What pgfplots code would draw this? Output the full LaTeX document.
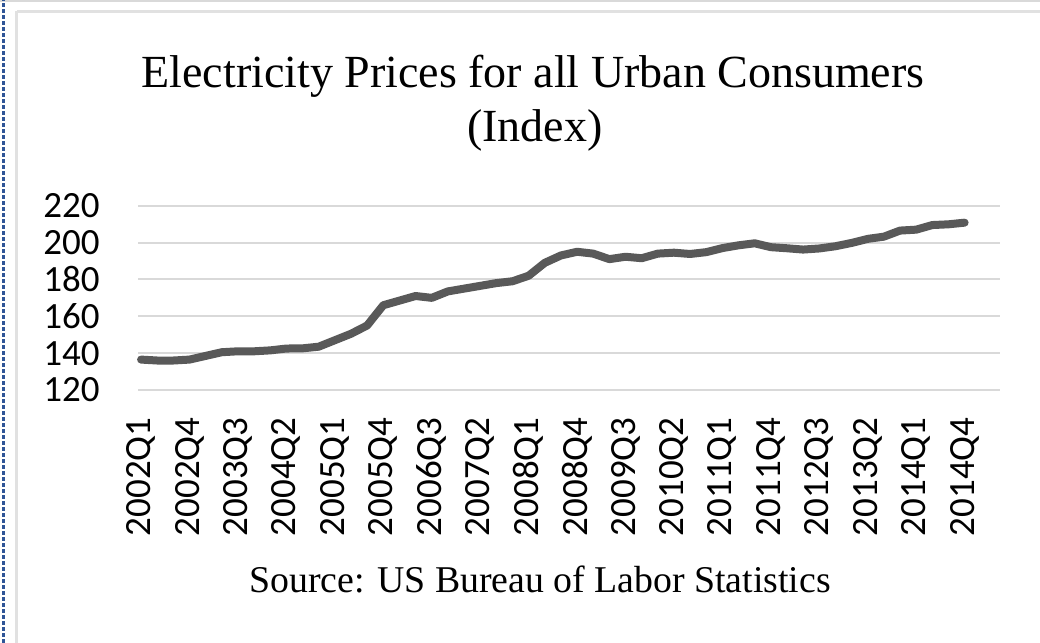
\documentclass[border=0pt]{standalone}
\usepackage{pgfplots}
\pgfplotsset{compat=1.18}
\usepackage{fontspec}
\setmainfont{Liberation Serif}
\newfontfamily\calfont{Carlito}
\definecolor{linegray}{HTML}{595959}
\definecolor{gridgray}{HTML}{D9D9D9}
\definecolor{frameblue}{HTML}{2F5597}
\begin{document}
\begin{tikzpicture}
\useasboundingbox (0pt,0pt) rectangle (520pt,321.5pt);
\fill[white] (0pt,0pt) rectangle (520pt,321.5pt);
\begin{scope}[x=0.5pt,y=0.5pt]
% window decorations (y measured from bottom: Y = 643 - y_px)
\draw[gridgray, line width=0.6pt] (0,642) -- (1040,642);
\draw[gridgray!80, line width=1.6pt] (17,631.5) -- (1040,631.5);
\draw[gridgray!80, line width=1.6pt] (16.5,631.5) -- (16.5,0);
\draw[frameblue, line width=1.2pt, dash pattern=on 2.2pt off 0.8pt] (3.5,0) -- (3.5,643);
\node[anchor=base, font=\fontsize{23}{27}\selectfont, inner sep=0pt] at (533,555) {Electricity Prices for all Urban Consumers};
\node[anchor=base, font=\fontsize{23}{27}\selectfont, inner sep=0pt] at (535,501) {(Index)};
\node[anchor=base, font=\fontsize{18.9}{23}\selectfont, inner sep=0pt] at (540,50) {Source: US Bureau of Labor Statistics};
\end{scope}
\begin{axis}[
  at={(69pt,126.5pt)}, anchor=south west,
  scale only axis, width=431pt, height=92.15pt,
  xmin=-0.19, xmax=53.19, ymin=120, ymax=220,
  axis line style={draw=none},
  ytick={120,140,...,220},
  xtick={0,3,...,51},
  xticklabels={2002Q1,2002Q4,2003Q3,2004Q2,2005Q1,2005Q4,2006Q3,2007Q2,2008Q1,2008Q4,2009Q3,2010Q2,2011Q1,2011Q4,2012Q3,2013Q2,2014Q1,2014Q4},
  ymajorgrids, grid style={gridgray, line width=1pt},
  major tick length=0pt,
  /pgf/number format/assume math mode=true,
  ticklabel style={font=\calfont\fontsize{18.5}{20}\selectfont, inner sep=0pt},
  xticklabel style={rotate=90, anchor=east},
  yticklabel style={anchor=east},
  xticklabel shift=13.5pt,
  yticklabel shift=19pt,
  clip=false,
]
\addplot[linegray, line width=4pt, line join=round, line cap=round] coordinates {
(0,136.5) (1,136) (2,136) (3,136.5) (4,138.5) (5,140.5) (6,141) (7,141)
(8,141.5) (9,142.5) (10,142.6) (11,143.5) (12,147) (13,150.5) (14,155) (15,166)
(16,168.5) (17,171) (18,170) (19,173.5) (20,175) (21,176.5) (22,178) (23,179)
(24,182) (25,189) (26,193) (27,195) (28,194) (29,191) (30,192.3) (31,191.5)
(32,194) (33,194.5) (34,193.8) (35,194.8) (36,197) (37,198.5) (38,199.6) (39,197.5)
(40,196.9) (41,196.2) (42,196.8) (43,198) (44,199.8) (45,202) (46,203.2) (47,206.5)
(48,207) (49,209.5) (50,209.9) (51,210.8)
};
\end{axis}
\end{tikzpicture}
\end{document}
